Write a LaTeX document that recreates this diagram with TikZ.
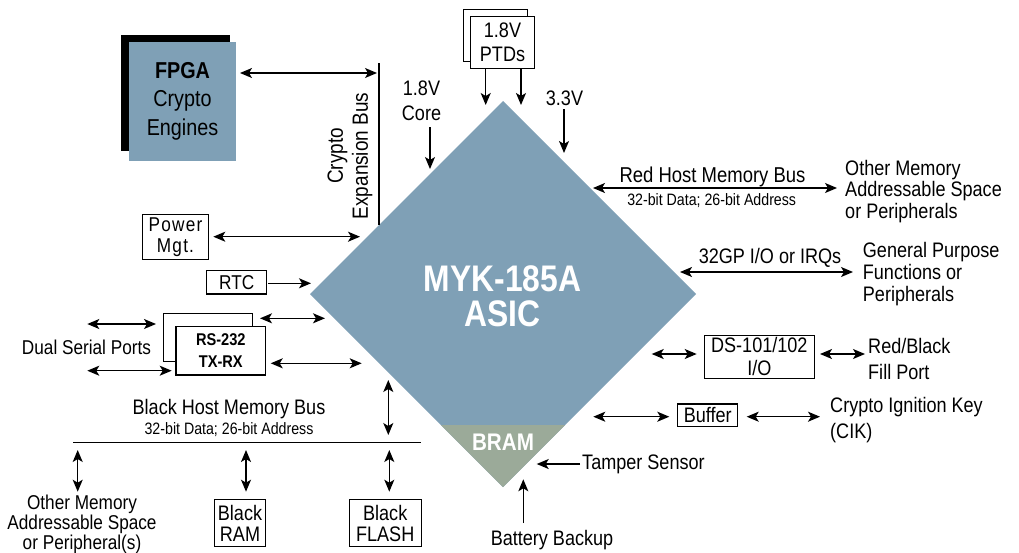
\documentclass[tikz,border=0pt]{standalone}
\usepackage{fontspec}
\setmainfont{Liberation Sans}[FakeStretch=0.86]
\usetikzlibrary{arrows.meta}
\definecolor{asicblue}{RGB}{127,160,182}
\definecolor{bramgreen}{RGB}{155,170,153}
\newcommand\fsz[2]{\fontsize{#1}{#2}\selectfont}
\tikzset{
  txt/.style={inner sep=0pt, align=center, font=\fsz{20}{22}},
  sub/.style={inner sep=0pt, align=center, font=\fsz{16.5}{18}},
  boxn/.style={draw, line width=1.1pt, fill=white, inner sep=0pt, align=center, font=\fsz{20}{21}},
  conn/.style={line width=1.3pt, -{Stealth[length=12pt,width=10pt,inset=3pt]}},
  dconn/.style={line width=1.3pt, {Stealth[length=12pt,width=10pt,inset=3pt]}-{Stealth[length=12pt,width=10pt,inset=3pt]}},
}
\begin{document}
\begin{tikzpicture}[x=1pt,y=-1pt]
\useasboundingbox (0,0) rectangle (1019,552);

% ASIC diamond
\fill[asicblue] (503,101) -- (696,294) -- (503,487) -- (310,294) -- cycle;
\fill[bramgreen] (441,425) -- (565,425) -- (503,487) -- cycle;
\node[inner sep=0pt, align=center, text=white, font=\fsz{37}{35}\bfseries] (asic) at (502.5,296) {MYK-185A\\ASIC};
\node[inner sep=0pt, text=white, font=\fsz{24}{24}\bfseries] (bram) at (503,442) {BRAM};

% FPGA
\fill[black] (121,35) rectangle (230,151);
\node[fill=asicblue, minimum width=107pt, minimum height=119pt, inner sep=0pt, align=center, font=\fsz{23}{28.5}] (fpga) at (182.5,101.2) {\textbf{FPGA}\\Crypto\\Engines};

% Crypto expansion bus
\coordinate (busTop) at (379,63);
\coordinate (busBot) at (379,225);
\draw[line width=2.6pt] (busTop) -- (busBot);
\node[txt, rotate=90, font=\fsz{22}{25}] (cebus) at (350,156) {Crypto\\Expansion Bus};
\coordinate (fpgaR) at (240,73);
\coordinate (busA) at (377,73);
\draw[dconn] (fpgaR) -- (busA);

% 1.8V core
\node[txt, font=\fsz{21}{25}] (core) at (421.5,101) {1.8V\\Core};
\coordinate (coreT) at (430,127);
\coordinate (coreB) at (430,169);
\draw[conn] (coreT) -- (coreB);

% PTDs
\node[draw, line width=1.1pt, fill=white, minimum width=64pt, minimum height=52.4pt, inner sep=0pt] (ptdsback) at (495.3,35.5) {};
\node[boxn, minimum width=63.6pt, minimum height=52.3pt, font=\fsz{21}{23.5}] (ptds) at (502.5,42.2) {1.8V\\PTDs};
\coordinate (p1a) at (485.7,68.3);
\coordinate (p1b) at (485.7,105);
\coordinate (p2a) at (521,68.3);
\coordinate (p2b) at (521,105);
\draw[conn] (p1a) -- (p1b);
\draw[conn] (p2a) -- (p2b);

% 3.3V
\node[txt, font=\fsz{21}{23}] (v33) at (564.5,98) {3.3V};
\coordinate (v33a) at (564,109);
\coordinate (v33b) at (564,153);
\draw[conn] (v33a) -- (v33b);

% Red host memory bus
\coordinate (rh1) at (593,188);
\coordinate (rh2) at (837,188);
\draw[dconn] (rh1) -- (rh2);
\node[txt, font=\fsz{21.5}{23}] (rhlbl) at (712.5,176.5) {Red Host Memory Bus};
\node[sub] (rhsub) at (711.7,200.5) {32-bit Data; 26-bit Address};
\node[txt, align=left, anchor=west, font=\fsz{21}{21.5}] (othermem) at (845,191.5) {Other Memory\\Addressable Space\\or Peripherals};

% GPIO
\coordinate (gp1) at (680,272);
\coordinate (gp2) at (853,272);
\draw[dconn] (gp1) -- (gp2);
\node[txt, font=\fsz{21}{23}] (gplbl) at (770,257.5) {32GP I/O or IRQs};
\node[txt, align=left, anchor=west, font=\fsz{21}{22}] (gpf) at (862.7,274.5) {General Purpose\\Functions or\\Peripherals};

% DS-101/102
\node[boxn, minimum width=110pt, minimum height=43.3pt, font=\fsz{21}{22.5}] (ds) at (759.3,356.7) {DS-101/102\\I/O};
\coordinate (ds1) at (651.7,354);
\coordinate (ds2) at (696.7,354);
\coordinate (ds3) at (820,354);
\coordinate (ds4) at (865,354);
\draw[dconn] (ds1) -- (ds2);
\draw[dconn] (ds3) -- (ds4);
\node[txt, align=left, anchor=west, font=\fsz{21}{26}] (fill) at (868,359) {Red/Black\\Fill Port};

% Buffer / CIK
\node[boxn, minimum width=60pt, minimum height=22.7pt, font=\fsz{21}{22}] (buffer) at (707.7,415.3) {Buffer};
\coordinate (bf1) at (593.3,416.7);
\coordinate (bf2) at (669.3,416.7);
\coordinate (bf3) at (746.7,416.7);
\coordinate (bf4) at (820,416.7);
\draw[dconn] (bf1) -- (bf2);
\draw[dconn] (bf3) -- (bf4);
\node[txt, align=left, anchor=west, font=\fsz{21}{26}] (cik) at (830,420) {Crypto Ignition Key\\(CIK)};

% Power Mgt
\node[boxn, minimum width=65.6pt, minimum height=45.3pt, font=\fsz{20}{21}\addfontfeature{LetterSpace=6}] (power) at (175.5,236.7) {Power\\Mgt.};
\coordinate (pw1) at (213.3,236.7);
\coordinate (pw2) at (360,236.7);
\draw[dconn] (pw1) -- (pw2);

% RTC
\node[boxn, minimum width=60pt, minimum height=23.3pt] (rtc) at (236.7,282.3) {RTC};
\coordinate (rtc1) at (268,283.3);
\coordinate (rtc2) at (311,283.3);
\draw[conn] (rtc1) -- (rtc2);

% RS-232
\node[draw, line width=1.1pt, fill=white, minimum width=89.4pt, minimum height=47.7pt, inner sep=0pt] (rsback) at (208,337.2) {};
\node[boxn, minimum width=89.7pt, minimum height=48.3pt, font=\fsz{17}{21.5}\bfseries] (rs) at (220.8,350.8) {RS-232\\TX-RX};
\coordinate (rs1) at (260,318.3);
\coordinate (rs2) at (325,318.3);
\coordinate (rs3) at (270.7,363.3);
\coordinate (rs4) at (361.7,363.3);
\coordinate (rs5) at (87.3,324);
\coordinate (rs6) at (156,324);
\coordinate (rs7) at (87.3,370.7);
\coordinate (rs8) at (171.7,370.7);
\draw[dconn] (rs1) -- (rs2);
\draw[dconn] (rs3) -- (rs4);
\draw[dconn] (rs5) -- (rs6);
\draw[dconn] (rs7) -- (rs8);
\node[txt, font=\fsz{20}{22}] (dual) at (86.5,347) {Dual Serial Ports};

% Black host memory bus
\coordinate (bb1) at (73.3,442.7);
\coordinate (bb2) at (421,442.7);
\draw[line width=1.3pt] (bb1) -- (bb2);
\node[txt, font=\fsz{21}{23}] (bhlbl) at (229,409.5) {Black Host Memory Bus};
\node[sub] (bhsub) at (229,430) {32-bit Data; 26-bit Address};
\coordinate (ba1) at (388.3,380);
\coordinate (ba2) at (388.3,435);
\draw[dconn] (ba1) -- (ba2);
\coordinate (v1a) at (77.7,450);
\coordinate (v1b) at (77.7,491.7);
\coordinate (v2a) at (246,450);
\coordinate (v2b) at (246,491.7);
\coordinate (v3a) at (389.3,450);
\coordinate (v3b) at (389.3,491.7);
\draw[dconn] (v1a) -- (v1b);
\draw[dconn] (v2a) -- (v2b);
\draw[dconn] (v3a) -- (v3b);
\node[boxn, minimum width=51.4pt, minimum height=47.4pt, font=\fsz{21}{21}] (bram2) at (240,523) {Black\\RAM};
\node[boxn, minimum width=71.7pt, minimum height=47.4pt, font=\fsz{21}{21}] (bflash) at (385.2,523) {Black\\FLASH};
\node[txt, font=\fsz{20}{20}] (othermem2) at (82,524) {Other Memory\\Addressable Space\\or Peripheral(s)};

% Tamper / battery
\coordinate (tm1) at (580,464);
\coordinate (tm2) at (536.7,464);
\draw[conn] (tm1) -- (tm2);
\node[txt, anchor=west, font=\fsz{21}{23}] (tamper) at (582,464.5) {Tamper Sensor};
\coordinate (bt1) at (523.3,523);
\coordinate (bt2) at (523.3,479.3);
\draw[conn] (bt1) -- (bt2);
\node[txt, font=\fsz{21}{23}] (battery) at (552,540.5) {Battery Backup};
\end{tikzpicture}
\end{document}
